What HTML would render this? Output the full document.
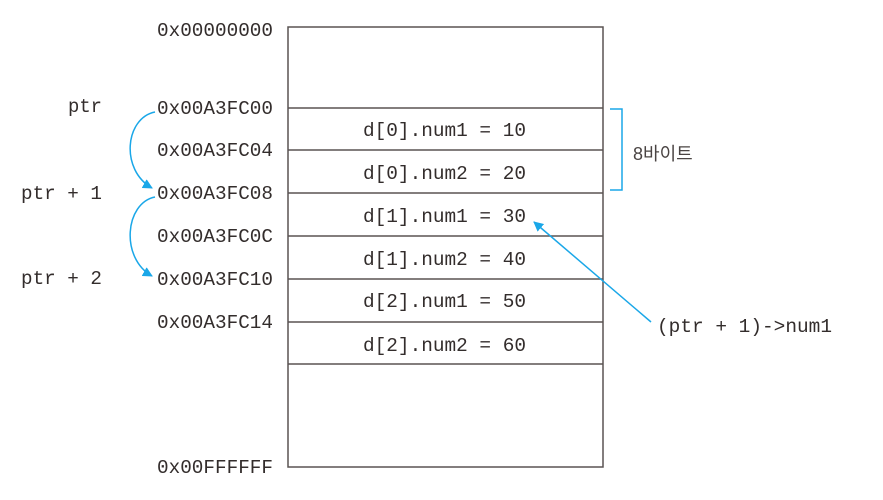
<!DOCTYPE html>
<html><head><meta charset="utf-8"><style>html,body{margin:0;padding:0;background:#fff}</style></head>
<body>
<svg width="883" height="495" viewBox="0 0 883 495" xmlns="http://www.w3.org/2000/svg">
<defs>
<marker id="ah" markerWidth="10" markerHeight="10" refX="9" refY="5" orient="auto" markerUnits="userSpaceOnUse">
<path d="M0,0 L10,5 L0,10 Z" fill="#1aa7e8"/>
</marker>
</defs>
<g stroke="#5a5352" stroke-width="1.5" fill="none">
<rect x="288" y="27" width="315" height="440"/>
<line x1="288" y1="108" x2="603" y2="108"/>
<line x1="288" y1="150" x2="603" y2="150"/>
<line x1="288" y1="193" x2="603" y2="193"/>
<line x1="288" y1="236" x2="603" y2="236"/>
<line x1="288" y1="279" x2="603" y2="279"/>
<line x1="288" y1="322" x2="603" y2="322"/>
<line x1="288" y1="364" x2="603" y2="364"/>
</g>
<g font-family="Liberation Mono, monospace" font-size="19" fill="#332d2c">
<text x="157" y="36" textLength="116" lengthAdjust="spacingAndGlyphs">0x00000000</text>
<text x="157" y="114" textLength="116" lengthAdjust="spacingAndGlyphs">0x00A3FC00</text>
<text x="157" y="156" textLength="116" lengthAdjust="spacingAndGlyphs">0x00A3FC04</text>
<text x="157" y="199" textLength="116" lengthAdjust="spacingAndGlyphs">0x00A3FC08</text>
<text x="157" y="242" textLength="116" lengthAdjust="spacingAndGlyphs">0x00A3FC0C</text>
<text x="157" y="285" textLength="116" lengthAdjust="spacingAndGlyphs">0x00A3FC10</text>
<text x="157" y="328" textLength="116" lengthAdjust="spacingAndGlyphs">0x00A3FC14</text>
<text x="157" y="473" textLength="116" lengthAdjust="spacingAndGlyphs">0x00FFFFFF</text>
<text x="68" y="112" textLength="34" lengthAdjust="spacingAndGlyphs">ptr</text>
<text x="21" y="199" textLength="81" lengthAdjust="spacingAndGlyphs">ptr + 1</text>
<text x="21" y="284" textLength="81" lengthAdjust="spacingAndGlyphs">ptr + 2</text>
<text x="363" y="136" textLength="163" lengthAdjust="spacingAndGlyphs">d[0].num1 = 10</text>
<text x="363" y="179" textLength="163" lengthAdjust="spacingAndGlyphs">d[0].num2 = 20</text>
<text x="363" y="222" textLength="163" lengthAdjust="spacingAndGlyphs">d[1].num1 = 30</text>
<text x="363" y="265" textLength="163" lengthAdjust="spacingAndGlyphs">d[1].num2 = 40</text>
<text x="363" y="307" textLength="163" lengthAdjust="spacingAndGlyphs">d[2].num1 = 50</text>
<text x="363" y="351" textLength="163" lengthAdjust="spacingAndGlyphs">d[2].num2 = 60</text>
<text x="657" y="332" textLength="175" lengthAdjust="spacingAndGlyphs">(ptr + 1)-&gt;num1</text>
</g>
<text x="633" y="160" font-family="Liberation Sans, Noto Sans CJK KR, sans-serif" font-size="18" fill="#4a4443">8바이트</text>
<path d="M610,109 H622 V190 H610" stroke="#1aa7e8" stroke-width="1.5" fill="none"/>
<g stroke="#1aa7e8" stroke-width="1.5" fill="none">
<path d="M155,112 C125,118 120,170 152,188" marker-end="url(#ah)"/>
<path d="M155,197 C125,203 120,258 152,276" marker-end="url(#ah)"/>
<line x1="651" y1="322" x2="534" y2="222" marker-end="url(#ah)"/>
</g>
</svg>
</body></html>
